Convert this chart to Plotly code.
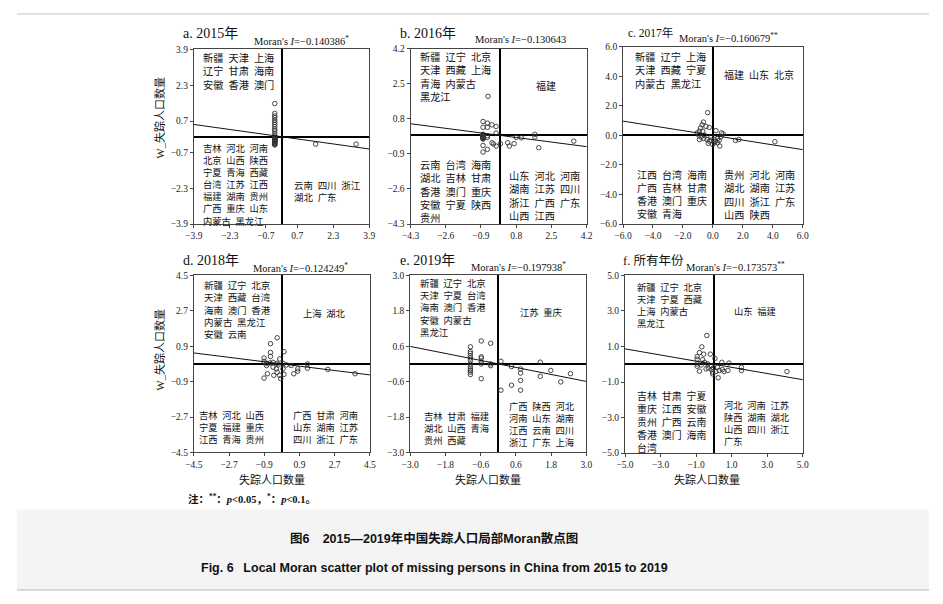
import plotly.graph_objects as go

# the page keeps the browser's 8px body margin, so the figure is drawn 16px
# smaller and every position measured on the reference is shifted by 8px
PAGE_W, PAGE_H, EDGE = 943, 604, 8
W, H = PAGE_W - 2 * EDGE, PAGE_H - 2 * EDGE

# ---- data ----
TITLES = ["a. 2015年", "b. 2016年", "c. 2017年", "d. 2018年", "e. 2019年", "f. 所有年份"]
MORAN_I = [-0.140386, -0.130643, -0.160679, -0.124249, -0.197938, -0.173573]
SIG = ["*", "", "**", "*", "*", "**"]

TICKS = [
    [-3.9, -2.3, -0.7, 0.7, 2.3, 3.9],
    [-4.3, -2.6, -0.9, 0.8, 2.5, 4.2],
    [-6.0, -4.0, -2.0, 0.0, 2.0, 4.0, 6.0],
    [-4.5, -2.7, -0.9, 0.9, 2.7, 4.5],
    [-3.0, -1.8, -0.6, 0.6, 1.8, 3.0],
    [-5.0, -3.0, -1.0, 1.0, 3.0, 5.0],
]

X_2015 = [-0.30, -0.30, -0.30, -0.30, -0.30, -0.30, -0.30, -0.30, -0.30, -0.30, -0.30, -0.30,
          -0.30, -0.30, -0.30, -0.30, -0.30, -0.30, -0.30, -0.30, -0.30, -0.30, -0.30, -0.30,
          -0.30, -0.30, -0.30, -0.30, -0.30, -0.30, -0.30, -0.30, 1.52, 3.32]
Y_2015 = [1.48, 1.04, 0.93, 0.85, 0.74, 0.64, 0.55, 0.45, 0.34, 0.26, 0.15, 0.05,
          -0.04, -0.14, -0.24, -0.36, -0.04, -0.14, -0.24, -0.36, -0.10, -0.20, -0.30, -0.08,
          -0.18, -0.28, -0.02, -0.12, -0.22, -0.32, -0.06, -0.16, -0.33, -0.33]

X_2016 = [-0.56, -0.80, -0.59, -0.37, -0.17, -0.80, -0.59, -0.17, -0.80, -0.80, 1.70,
          -0.80, -0.80, -0.80, -0.80, -0.80, -0.80, -0.80, -0.80, -0.80, -0.59, -0.80, -0.37,
          -0.30, -0.17, -0.80, -0.59, -0.59,
          0.04, 0.39, 0.70, 0.47, 1.05, 1.70, 1.89, 3.58, 0.80]
Y_2016 = [1.89, 0.67, 0.59, 0.51, 0.43, 0.39, 0.39, 0.11, 0.02, 0.05, 0.05,
          -0.04, -0.08, -0.12, -0.16, -0.06, -0.10, -0.14, -0.02, -0.49, -0.68, -0.81, -0.36,
          -0.42, -0.52, -0.18, -0.02, -0.10,
          -0.41, -0.36, -0.40, -0.52, -0.12, -0.08, -0.60, -0.28, -0.10]

X_2017 = [-0.35, -0.63, -0.72, -0.83, -0.46, -0.24, -0.90, -0.68, 0.20, 0.57, 0.68, -0.94,
          -0.79, -0.61, -0.90, -0.39, -0.24, -0.13, 0.09, 0.20, 0.31, 0.42, 0.09, 0.31,
          0.46, -0.31, 1.51, 1.73, 4.14, -0.57, -1.05, -0.13, -0.02, 0.53]
Y_2017 = [1.54, 0.90, 0.72, 0.50, 0.61, 0.54, 0.28, 0.28, 0.32, 0.17, 0.10, 0.01,
          -0.12, -0.21, -0.28, -0.28, -0.39, -0.32, -0.28, -0.39, -0.21, -0.34, -0.50, -0.50,
          -0.72, -0.54, -0.34, -0.28, -0.43, 0.01, 0.17, -0.12, -0.61, -0.12]

X_2018 = [-0.24, -0.58, -0.58, -0.58, 0.11, -0.91, -0.91, -0.78, -0.61, -0.45, -0.24, -0.11,
          0.06, 0.48, 0.81, 0.81, 1.31, 1.31, 2.35, 3.74, -0.78, -0.45, -0.28, -0.24,
          -0.74, -0.91, -0.41, -0.11, -0.06, 0.11, 0.61, -0.19, 0.23, 0.06]
Y_2018 = [1.33, 1.03, 0.58, 0.38, 0.62, 0.30, 0.13, 0.03, 0.05, 0.08, 0.03, 0.25,
          0.03, -0.08, -0.25, -0.37, 0.00, -0.22, -0.28, -0.50, -0.08, -0.17, -0.25, -0.42,
          -0.50, -0.72, -0.58, -0.58, -0.75, -0.53, -0.50, -0.05, -0.05, -0.25]

X_2019 = [-0.95, -0.95, -0.95, -0.95, -0.95, -0.95, -0.95, -0.95, -0.95, -0.95, -0.95, -0.95,
          -0.58, -0.26, -0.58, -0.58, -0.58, -0.58, -0.58, -0.26, -0.26, 0.09, 0.09,
          0.45, 0.45, 0.76, 0.76, 0.76, 0.76, 1.43, 1.43, 1.79, 2.13, 2.46]
Y_2019 = [0.58, 0.42, 0.36, 0.28, 0.20, 0.11, 0.00, -0.09, -0.17, -0.28, -0.36, -0.22,
          0.78, 0.70, 0.24, 0.20, 0.06, 0.00, -0.50, 0.00, -0.06, 0.09, -0.89,
          -0.09, -0.72, -0.17, -0.31, -0.56, -0.89, 0.06, -0.42, -0.22, -0.61, -0.33]

X_ALL = [-0.40, -0.68, -0.81, -0.57, -0.20, -0.94, -0.94, -0.63, 0.06, 0.45, 0.85, -0.94,
         -0.94, -0.72, -0.53, -0.35, -0.16, -0.31, -0.13, -0.81, -0.07, -0.07, 0.11, 0.30,
         0.48, 0.79, 1.55, 1.55, 4.11, 0.24, -0.02, -0.44, 0.20, 0.57]
Y_ALL = [1.62, 0.98, 0.66, 0.57, 0.57, 0.44, 0.29, 0.26, 0.33, 0.11, 0.07, 0.02,
         -0.11, -0.04, 0.11, 0.02, -0.08, -0.22, -0.30, -0.39, -0.44, -0.54, -0.41, -0.35,
         -0.30, -0.35, -0.17, -0.35, -0.41, -0.76, -0.20, -0.26, -0.17, -0.41]

XS = [X_2015, X_2016, X_2017, X_2018, X_2019, X_ALL]
YS = [Y_2015, Y_2016, Y_2017, Y_2018, Y_2019, Y_ALL]

# quadrant members: HH upper-right, LH upper-left, LL lower-left, HL lower-right
Q_2015 = {
    "LH": ["新疆 天津 上海", "辽宁 甘肃 海南", "安徽 香港 澳门"],
    "LL": ["吉林 河北 河南", "北京 山西 陕西", "宁夏 青海 西藏", "台湾 江苏 江西",
           "福建 湖南 贵州", "广西 重庆 山东", "内蒙古 黑龙江"],
    "HL": ["云南 四川 浙江", "湖北 广东"],
}
Q_2016 = {
    "LH": ["新疆 辽宁 北京", "天津 西藏 上海", "青海 内蒙古", "黑龙江"],
    "HH": ["福建"],
    "LL": ["云南 台湾 海南", "湖北 吉林 甘肃", "香港 澳门 重庆", "安徽 宁夏 陕西", "贵州"],
    "HL": ["山东 河北 河南", "湖南 江苏 四川", "浙江 广西 广东", "山西 江西"],
}
Q_2017 = {
    "LH": ["新疆 辽宁 上海", "天津 西藏 宁夏", "内蒙古 黑龙江"],
    "HH": ["福建 山东 北京"],
    "LL": ["江西 台湾 海南", "广西 吉林 甘肃", "香港 澳门 重庆", "安徽 青海"],
    "HL": ["贵州 河北 河南", "湖北 湖南 江苏", "四川 浙江 广东", "山西 陕西"],
}
Q_2018 = {
    "LH": ["新疆 辽宁 北京", "天津 西藏 台湾", "海南 澳门 香港", "内蒙古 黑龙江", "安徽 云南"],
    "HH": ["上海 湖北"],
    "LL": ["吉林 河北 山西", "宁夏 福建 重庆", "江西 青海 贵州"],
    "HL": ["广西 甘肃 河南", "山东 湖南 江苏", "四川 浙江 广东"],
}
Q_2019 = {
    "LH": ["新疆 辽宁 北京", "天津 宁夏 台湾", "海南 澳门 香港", "安徽 内蒙古", "黑龙江"],
    "HH": ["江苏 重庆"],
    "LL": ["吉林 甘肃 福建", "湖北 山西 青海", "贵州 西藏"],
    "HL": ["广西 陕西 河北", "河南 山东 湖南", "江西 云南 四川", "浙江 广东 上海"],
}
Q_ALL = {
    "LH": ["新疆 辽宁 北京", "天津 宁夏 西藏", "上海 内蒙古", "黑龙江"],
    "HH": ["山东 福建"],
    "LL": ["吉林 甘肃 宁夏", "重庆 江西 安徽", "贵州 广西 云南", "香港 澳门 海南", "台湾"],
    "HL": ["河北 河南 江苏", "陕西 湖南 湖北", "山西 四川 浙江", "广东"],
}
QUADS = [Q_2015, Q_2016, Q_2017, Q_2018, Q_2019, Q_ALL]

# ---- layout (pixel positions measured on the reference page) ----
BOXES = [((187.7, 366.0), (45.0, 222.7)), ((408.0, 587.0), (44.3, 222.7)),
         ((624.0, 806.7), (42.3, 222.7)), ((187.7, 366.7), (275.0, 455.0)),
         ((407.7, 586.7), (275.0, 455.0)), ((626.0, 806.7), (275.0, 455.7))]
TITLE_POS = [(175, 29, 14), (395, 29, 14), (627, 28, 11.5), (175, 260, 14), (395, 260, 14), (622, 260, 12.5)]
MORAN_POS = [(247, 36), (472, 35), (679, 33), (246, 267), (467, 266), (686, 266)]
# quadrant text: (x frac, y frac of first line centre, line gap px)
QPOS = [
    {"LH": (0.04, 0.953, 14), "LL": (0.04, 0.432, 11.4), "HL": (0.56, 0.225, 12.3)},
    {"LH": (0.045, 0.953, 13.5), "HH": (0.70, 0.79, 13), "LL": (0.045, 0.339, 13.6), "HL": (0.547, 0.277, 13.3)},
    {"LH": (0.056, 0.942, 14), "HH": (0.553, 0.841, 13), "LL": (0.069, 0.277, 13), "HL": (0.553, 0.277, 13.3)},
    {"LH": (0.046, 0.948, 12.3), "HH": (0.61, 0.787, 12), "LL": (0.017, 0.213, 11.7), "HL": (0.553, 0.213, 11.7)},
    {"LH": (0.046, 0.954, 12.2), "HH": (0.61, 0.796, 12), "LL": (0.069, 0.207, 12), "HL": (0.55, 0.263, 11.9)},
    {"LH": (0.059, 0.935, 11.8), "HH": (0.60, 0.80, 12), "LL": (0.059, 0.321, 12.9), "HL": (0.548, 0.271, 12)},
]

SERIF = "Liberation Serif, Noto Sans CJK SC, serif"
CJK = "Noto Sans CJK SC, sans-serif"
SANS = "Liberation Sans, Arial, Noto Sans CJK SC, sans-serif"
GAP = "\u2002"


def px_x(v):
    return (v - EDGE) / W


def px_y(v):
    return 1 - (v - EDGE) / H


def note(text, x, y, size, family=SERIF, xanchor="center", yanchor="middle", **kw):
    return dict(text=text, x=px_x(x), y=px_y(y), xref="paper", yref="paper",
                xanchor=xanchor, yanchor=yanchor, showarrow=False,
                font=dict(family=family, size=size, color="#111"), **kw)


fig = go.Figure()
annotations = []
layout_axes = {}

for i in range(6):
    n = "" if i == 0 else str(i + 1)
    (x0, x1), (y0, y1) = BOXES[i]
    ticks = TICKS[i]
    lo, hi = ticks[0], ticks[-1]

    fig.add_trace(go.Scatter(
        x=XS[i], y=YS[i], mode="markers", xaxis="x" + n, yaxis="y" + n,
        marker=dict(symbol="circle-open", size=4.5, color="#333", line=dict(width=0.9)),
        showlegend=False, hoverinfo="x+y",
    ))
    # regression line, slope = Moran's I
    fig.add_trace(go.Scatter(
        x=[lo, hi], y=[MORAN_I[i] * lo, MORAN_I[i] * hi], mode="lines",
        xaxis="x" + n, yaxis="y" + n, line=dict(color="#111", width=1),
        showlegend=False, hoverinfo="skip",
    ))

    common = dict(
        range=[lo, hi], tickvals=ticks, tickformat=".1f", ticks="outside", ticklen=3,
        tickwidth=1, tickcolor="#444", showgrid=False, zeroline=True,
        zerolinecolor="#000", zerolinewidth=1.6, showline=True, mirror=True,
        linecolor="#444", linewidth=1, tickfont=dict(family=SERIF, size=9.5, color="#222"),
        fixedrange=True,
    )
    layout_axes["xaxis" + n] = dict(common, domain=[px_x(x0), px_x(x1)], anchor="y" + n)
    layout_axes["yaxis" + n] = dict(common, domain=[px_y(y1), px_y(y0)], anchor="x" + n)

    tx, ty, tsize = TITLE_POS[i]
    annotations.append(note(TITLES[i], tx, ty, tsize, xanchor="left"))
    mx, my = MORAN_POS[i]
    sig = f"<sup>{SIG[i]}</sup>" if SIG[i] else ""
    annotations.append(note(f"Moran's <i>I</i>=\u2212{abs(MORAN_I[i]):.6f}{sig}",
                            mx, my, 10.5, xanchor="left"))

    # one text block per quadrant; font sized so plotly's 1.3 line height ~ reference leading
    for key, lines in QUADS[i].items():
        fx, fy, gap = QPOS[i][key]
        size = min(10.2, max(9.3, gap / 1.3))
        lead = 1.3 * size
        annotations.append(dict(
            text="<br>".join(line.replace(" ", GAP) for line in lines),
            x=fx, y=fy, xref=f"x{n} domain", yref=f"y{n} domain",
            xanchor="left", yanchor="middle", align="left",
            yshift=-(len(lines) - 1) * lead / 2, showarrow=False,
            font=dict(family=CJK, size=size, color="#111"),
        ))

# axis titles
for yc in (115, 351):
    annotations.append(note("W_失踪人口数量", 153, yc, 11, textangle=-90))
for xc in (266.7, 486.7, 709):
    annotations.append(note("失踪人口数量", xc, 482, 11, family=CJK))
annotations.append(note(
    "<b>注：<sup>**</sup>：<i>p</i>&lt;0.05，<sup>*</sup>：<i>p</i>&lt;0.1。</b>",
    180, 502, 10.5, xanchor="left"))

# caption
annotations.append(note("<b>图6\u2002\u00a0 2015—2019年中国失踪人口局部Moran散点图</b>",
                        432, 543, 12.5, family=SANS))
annotations.append(note(
    "<b>Fig. 6\u2002 Local Moran scatter plot of missing persons in China from 2015 to 2019</b>",
    432, 573, 12.5, family=SANS))

shapes = [
    dict(type="rect", xref="paper", yref="paper", x0=0, x1=1, y0=px_y(595), y1=px_y(513),
         fillcolor="#f4f4f4", line=dict(width=0), layer="below"),
    dict(type="line", xref="paper", yref="paper", x0=0, x1=1, y0=px_y(595), y1=px_y(595),
         line=dict(color="#cfcfcf", width=1.5)),
    dict(type="line", xref="paper", yref="paper", x0=0, x1=1, y0=px_y(9), y1=px_y(9),
         line=dict(color="#d6d6d6", width=1.5)),
]

fig.update_layout(
    width=W, height=H, margin=dict(l=0, r=0, t=0, b=0),
    paper_bgcolor="white", plot_bgcolor="white",
    annotations=annotations, shapes=shapes, **layout_axes,
)

fig.write_html("out.html", config={"displayModeBar": False})
